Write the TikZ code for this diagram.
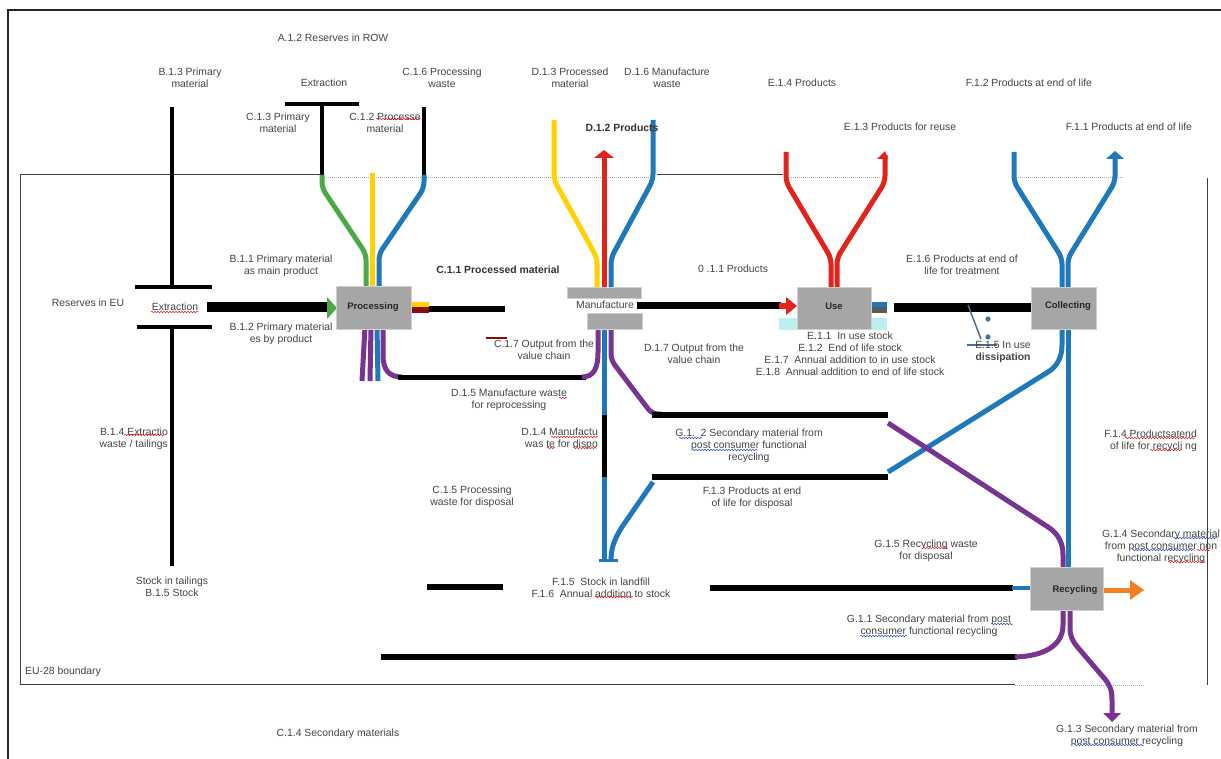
\documentclass[tikz,border=0pt]{standalone}
\usepackage{fontspec}
\setmainfont{Liberation Sans}
\usetikzlibrary{decorations.pathmorphing}
\definecolor{cgreen}{HTML}{4BAA48}
\definecolor{cyellow}{HTML}{FFD200}
\definecolor{cblue}{HTML}{1F78B8}
\definecolor{cred}{HTML}{E2231A}
\definecolor{cpurple}{HTML}{773490}
\definecolor{corange}{HTML}{F08020}
\definecolor{boxgray}{HTML}{A6A6A6}
\definecolor{boxedge}{HTML}{CFCFCF}
\definecolor{txtgray}{HTML}{444444}
\definecolor{darkred}{HTML}{8B0A0A}
\definecolor{lcyan}{HTML}{BDEFF0}
\definecolor{slate}{HTML}{4A6F8F}
\definecolor{stubgray}{HTML}{5A5A5A}
\definecolor{spellred}{HTML}{E02020}
\definecolor{spellblue}{HTML}{3050C0}
\newcommand{\lblsize}{\fontsize{10.4}{12}\selectfont}
\newcommand{\boxsize}{\fontsize{9.5}{11}\selectfont\bfseries}
\tikzset{
  lbl/.style={font=\lblsize, text=txtgray, align=center, inner sep=0pt},
  lblb/.style={lbl, font=\lblsize\bfseries, text=black!80},
  boxlbl/.style={font=\boxsize, text=black!85, inner sep=0pt},
  pbox/.style={fill=boxgray, draw=boxedge, line width=0.8pt, inner sep=0pt},
  flow/.style={line width=5pt, rounded corners=6pt},
  blk/.style={line width=6pt, black},
  bnd/.style={line width=1pt, black!75},
  dotb/.style={line width=0.8pt, gray!70, dash pattern=on 1pt off 1pt},
  sqr/.style={spellred, line width=0.5pt, decorate, decoration={snake, amplitude=0.8pt, segment length=3pt}},
  sqb/.style={sqr, spellblue},
}
\begin{document}
\begin{tikzpicture}[x=1pt,y=-1pt]
\useasboundingbox (0,0) rectangle (1221,759);
\fill[white] (0,0) rectangle (1221,759);

% ---------- named points ----------
\coordinate (bTop) at (172,107);
\coordinate (bBot) at (172,566);
\coordinate (exT) at (322,104);
\coordinate (c16T) at (424,107);
\coordinate (d13T) at (554,120);
\coordinate (d16T) at (653,120);
\coordinate (e14T) at (786,152);
\coordinate (f12T) at (1014,152);

% ---------- frame and EU boundary ----------
\draw[line width=1.6pt, black!85] (8,759) -- (8,10) -- (1221,10);
\draw[bnd] (322,175) -- (20,175) -- (20,684) -- (1015,684);
\draw[bnd] (657,175) -- (783,175);
\draw[bnd] (1207,178) -- (1207,685);
\draw[dotb] (322,177) -- (655,177);
\draw[dotb] (785,177) -- (886,177);
\draw[dotb] (1012,177) -- (1123,177);
\draw[dotb] (1015,685) -- (1145,685);

% ---------- extraction (B) ----------
\draw[line width=4pt] (bTop) -- (172,287);
\draw[line width=3.5pt] (135,287) -- (212,287);
\draw[line width=3.5pt] (137,327) -- (212,327);
\draw[line width=4pt] (172,327) -- (bBot);

% ---------- extraction (top, ROW) ----------
\draw[line width=3.5pt] (285,104) -- (359,104);
\draw[line width=4pt] (exT) -- (322,175);
\draw[line width=4pt] (c16T) -- (424,175);

% ---------- flows into Processing ----------
\draw[flow,cgreen] (322,175) -- (322,188) -- (366,254) -- (366,288);
\draw[flow,cyellow] (372,173) -- (372,288);
\draw[flow,cblue] (424,175) -- (424,188) -- (379,254) -- (379,288);
\draw[line width=10pt] (207,307) -- (328,307);
\fill[cgreen] (327,297) -- (337,308) -- (327,319) -- cycle;

% ---------- flows out of Processing ----------
\fill[cyellow] (411,302) rectangle (429,307.5);
\fill[darkred] (411,307.5) rectangle (429,313);
\draw[blk] (429,309.5) -- (505,309.5);
\draw[flow,cpurple] (365,327) -- (362,381);
\draw[flow,cpurple] (371,327) -- (370,381);
\draw[flow,cblue] (377,327) -- (378,381);
\draw[line width=5pt,cpurple] (383,327) -- (383,355) .. controls (383,370) and (389,377) .. (402,377);
\draw[blk,line width=5pt] (398,377) -- (586,377);
\draw[line width=5pt,cpurple] (598,327) -- (598,352) .. controls (598,368) and (594,377) .. (582,377);

% ---------- flows at Manufacture ----------
\draw[flow,cyellow] (d13T) -- (554,180) -- (597,258) -- (597,289);
\draw[flow,cblue] (d16T) -- (653,180) -- (611,258) -- (611,289);
\draw[line width=5pt,cred] (604,289) -- (604,157);
\fill[cred] (594,158) -- (604,150) -- (614,158) -- cycle;
\draw[line width=5pt,cblue] (604,327) -- (604,417);
\draw[line width=5pt] (604,415) -- (604,479);
\draw[line width=5pt,cblue] (604,477) -- (604,561);
\draw[flow,cpurple] (611,327) -- (611,360) -- (652,414) -- (662,414);
\draw[line width=5pt,cblue] (653,482) -- (622,527) .. controls (613,541) and (611,550) .. (611,561);
\draw[line width=3pt,cblue] (599,560) -- (618,560);
\draw[blk] (652,414.5) -- (888,414.5);
\draw[blk] (652,477) -- (888,477);

% ---------- Manufacture -> Use ----------
\draw[line width=7pt] (637,306) -- (781,306);
\draw[line width=6pt,cred] (779,306) -- (789,306);
\fill[cred] (786,297) -- (797,306) -- (786,315) -- cycle;
\fill[lcyan] (779,318) rectangle (887,330);
\draw[flow,cred] (e14T) -- (786,182) -- (831,258) -- (831,289);
\draw[flow,cred] (837,289) -- (837,258) -- (885,182) -- (885,155);
\fill[cred] (877,159) -- (885,151) -- (888,159) -- cycle;
\fill[cblue] (872,302) rectangle (887,307.5);
\fill[stubgray] (872,307.5) rectangle (887,313);

% ---------- Use -> Collecting ----------
\draw[line width=9pt] (894,307.5) -- (1031,307.5);
\draw[slate, line width=1.5pt] (968,305) -- (981,339);
\draw[slate, line width=2.5pt] (967,345) -- (997,345);
\fill[slate] (988,319) circle (2.6);
\fill[slate] (988,337) circle (2.6);
\draw[flow,cblue] (f12T) -- (1014,182) -- (1062,258) -- (1062,289);
\draw[flow,cblue] (1068,289) -- (1068,258) -- (1115,182) -- (1115,158);
\fill[cblue] (1106,159) -- (1115,151) -- (1124,159) -- cycle;

% ---------- Collecting -> Recycling ----------
\draw[line width=5pt,cblue] (1068,327) -- (1068,569);
\draw[line width=5pt,cblue] (888,472) -- (1048,372) .. controls (1058,366) and (1062,356) .. (1062,345) -- (1062,327);
\draw[line width=5pt,cpurple] (888,423) -- (1048,527) .. controls (1059,534) and (1063,544) .. (1063,555) -- (1063,569);

% ---------- landfill and bottom ----------
\draw[blk] (427,587) -- (503,587);
\draw[blk] (710,588) -- (1013,588);
\draw[line width=4pt,cblue] (1012,588) -- (1031,588);
\draw[blk] (381,657) -- (1017,657);
\draw[line width=5pt,cpurple] (1015,657) .. controls (1045,656) and (1063,645) .. (1063,625) -- (1063,608);
\draw[line width=5pt,cpurple] (1070,608) -- (1070,628) .. controls (1070,638) and (1074,643) .. (1080,650) -- (1104,678) .. controls (1110,685) and (1112,690) .. (1112,700) -- (1112,713);
\fill[cpurple] (1103,713) -- (1112,722) -- (1121,713) -- cycle;
\draw[line width=5pt,corange] (1103,590) -- (1132,590);
\fill[corange] (1130,580) -- (1144,590) -- (1130,600) -- cycle;

% ---------- process boxes ----------
\node[pbox, minimum width=75pt, minimum height=43pt] (proc) at (373.5,307.5) {};
\node[boxlbl] (procl) at (373,307) {Processing};
\node[pbox, minimum width=74pt, minimum height=11pt] (manT) at (604,292.5) {};
\node[pbox, minimum width=55pt, minimum height=16pt] (manB) at (614.5,321) {};
\node[lbl] (man) at (605,305) {Manufacture};
\node[pbox, minimum width=74pt, minimum height=42pt] (use) at (834,308) {};
\node[boxlbl] (usel) at (834,306) {Use};
\node[pbox, minimum width=65pt, minimum height=42pt] (coll) at (1063.5,308) {};
\node[boxlbl] (colll) at (1068,306) {Collecting};
\node[pbox, minimum width=73pt, minimum height=43pt] (rec) at (1066.5,588.5) {};
\node[boxlbl] (recl) at (1075,590) {Recycling};

% ---------- labels ----------
\node[lbl] (a12) at (333,38) {A.1.2 Reserves in ROW};
\node[lbl] (b13) at (190,77.5) {B.1.3 Primary\\material};
\node[lbl] (extop) at (324,83) {Extraction};
\node[lbl] (c16) at (442,77.5) {C.1.6 Processing\\waste};
\node[lbl] (d13) at (570,77.5) {D.1.3 Processed\\material};
\node[lbl] (d16) at (667,77.5) {D.1.6 Manufacture\\waste};
\node[lbl] (e14) at (802,83) {E.1.4 Products};
\node[lbl] (f12) at (1029,83) {F.1.2 Products at end of life};
\node[lbl] (c13) at (278,122.5) {C.1.3 Primary\\material};
\node[lbl] (c12) at (385,122.5) {C.1.2 Processe\\material};
\node[lblb] (d12) at (622,128) {D.1.2 Products};
\node[lbl] (e13) at (900,127) {E.1.3 Products for reuse};
\node[lbl] (f11) at (1129,127) {F.1.1 Products at end of life};
\node[lbl] (b11) at (281,266) {B.1.1 Primary material\\as main product};
\node[lblb] (c11) at (498,270) {C.1.1 Processed material};
\node[lbl] (o11) at (733,269) {0 .1.1 Products};
\node[lbl] (e16) at (962,264.5) {E.1.6 Products at end of\\life for treatment};
\node[lbl] (reu) at (88,303) {Reserves in EU};
\node[lbl] (extr) at (175,307) {Extraction};
\node[lbl] (b12) at (281,334) {B.1.2 Primary material\\es by product};
\node[lbl] (c17) at (544,349.5) {C.1.7 Output from the\\value chain};
\node[lbl] (d17) at (694,354) {D.1.7 Output from the\\value chain};
\node[lbl] (e11) at (850,353.5) {E.1.1~~In use stock\\E.1.2~~End of life stock\\E.1.7~~Annual addition to in use stock\\E.1.8~~Annual addition to end of life stock};
\node[lbl] (e15) at (1003,352.5) {E.1.5 In use\\\textbf{dissipation}};
\node[lbl] (d15) at (509,400) {D.1.5 Manufacture waste\\for reprocessing};
\node[lbl, anchor=east, align=right] (b14) at (168,439) {B.1.4 Extractio\\waste / tailings};
\node[lbl, anchor=east, align=right] (d14) at (598,439) {D.1.4 Manufactu\\was te for dispo};
\node[lbl] (g12) at (749,446) {G.1.~~2 Secondary material from\\post consumer functional\\recycling};
\node[lbl, anchor=east, align=right] (f14) at (1197,441) {F.1.4 Productsatend\\of life for recycli ng};
\node[lbl] (c15) at (472,497) {C.1.5 Processing\\waste for disposal};
\node[lbl] (f13) at (752,498) {F.1.3 Products at end\\of life for disposal};
\node[lbl] (g15) at (926,550.5) {G.1.5 Recycling waste\\for disposal};
\node[lbl] (g14) at (1161,547) {G.1.4 Secondary material\\from post consumer non\\functional recycling};
\node[lbl] (b15) at (172,587) {Stock in tailings\\B.1.5 Stock};
\node[lbl] (f15) at (601,587.5) {F.1.5~~Stock in landfill\\F.1.6~~Annual addition to stock};
\node[lbl] (g11) at (929,626) {G.1.1 Secondary material from post\\consumer functional recycling};
\node[lbl, anchor=west] (eu) at (25,672) {EU-28 boundary};
\node[lbl] (c14) at (338,734) {C.1.4 Secondary materials};
\node[lbl] (g13) at (1127,736) {G.1.3 Secondary material from\\post consumer recycling};

% ---------- marks over texts ----------
\draw[darkred, line width=1.2pt] (486,338) -- (507,338);
\draw[sqr] (151,312) -- (199,312);
\draw[sqr] (376,119) -- (421,119);
\draw[sqr] (124,435) -- (164,435);
\draw[sqr] (559,398) -- (567,398);
\draw[sqr] (551,437) -- (598,437);
\draw[sqr] (547,448) -- (555,448);
\draw[sqr] (573,448) -- (597,448);
\draw[sqb] (679,438) -- (702,438);
\draw[sqb] (692,450) -- (758,450);
\draw[sqr] (595,597) -- (633,597);
\draw[sqr] (923,548) -- (948,548);
\draw[sqr] (1125,438) -- (1195,438);
\draw[sqr] (1150,450) -- (1182,450);
\draw[sqb] (1173,538) -- (1218,538);
\draw[sqb] (1132,550) -- (1195,550);
\draw[sqr] (1197,550) -- (1210,550);
\draw[sqr] (1168,562) -- (1205,562);
\draw[sqb] (991,624) -- (1013,624);
\draw[sqb] (860,636) -- (907,636);
\draw[sqb] (1074,745) -- (1144,745);
\end{tikzpicture}
\end{document}
